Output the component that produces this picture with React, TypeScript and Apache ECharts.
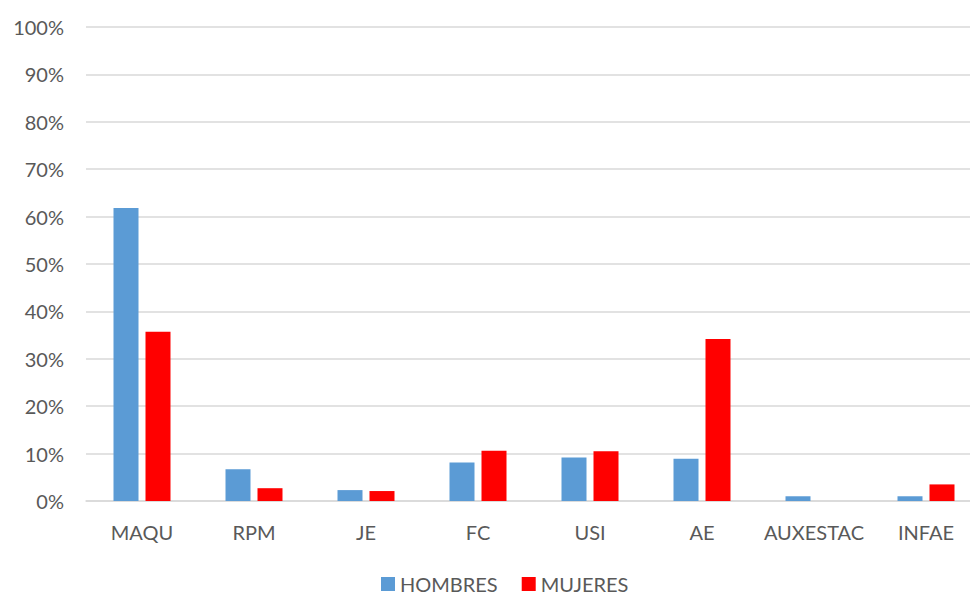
import React, { useEffect, useRef } from "react";
import * as echarts from "echarts";

const categories = ["MAQU", "RPM", "JE", "FC", "USI", "AE", "AUXESTAC", "INFAE"];
const hombres = [61.8, 6.7, 2.3, 8.1, 9.2, 8.9, 1.0, 1.0];
const mujeres = [35.7, 2.7, 2.1, 10.6, 10.5, 34.2, 0, 3.5];
const seriesNames = ["HOMBRES", "MUJERES"];

const FONT = "Lato, 'Open Sans', sans-serif";
const TXT = "#595959";

export default function App() {
  const ref = useRef<HTMLDivElement>(null);
  useEffect(() => {
    document.body.style.margin = "0";
    const chart = echarts.init(ref.current!, null, { renderer: "svg" });
    chart.setOption({
      animation: false,
      textStyle: { fontFamily: FONT },
      grid: {
        left: 86,
        width: 896,
        top: 27,
        bottom: 96,
        containLabel: false,
        outerBoundsMode: "none",
      },
      legend: {
        top: 573,
        left: 381,
        padding: 0,
        itemWidth: 14,
        itemHeight: 14,
        itemGap: 24,
        icon: "rect",
        textStyle: { color: TXT, fontSize: 20, lineHeight: 22, fontFamily: FONT },
        data: seriesNames,
      },
      xAxis: {
        type: "category",
        data: categories,
        axisLine: { lineStyle: { color: "#d9d9d9", width: 1.5 } },
        axisTick: { show: false },
        axisLabel: { color: TXT, fontSize: 20, margin: 21, interval: 0, fontFamily: FONT },
      },
      yAxis: {
        type: "value",
        min: 0,
        max: 100,
        interval: 10,
        axisLine: { show: false },
        axisTick: { show: false },
        splitLine: { lineStyle: { color: "#d9d9d9", width: 1.5 } },
        axisLabel: { color: TXT, fontSize: 20, margin: 22, formatter: "{value}%", fontFamily: FONT },
      },
      series: [
        {
          name: seriesNames[0],
          type: "bar",
          data: hombres,
          barWidth: 25,
          barGap: "28%",
          itemStyle: { color: "#5b9bd5" },
        },
        {
          name: seriesNames[1],
          type: "bar",
          data: mujeres,
          barWidth: 25,
          itemStyle: { color: "#ff0000" },
        },
      ],
    });
    return () => chart.dispose();
  }, []);
  return <div ref={ref} style={{ position: "absolute", left: 0, top: 0, width: 970, height: 597 }} />;
}
